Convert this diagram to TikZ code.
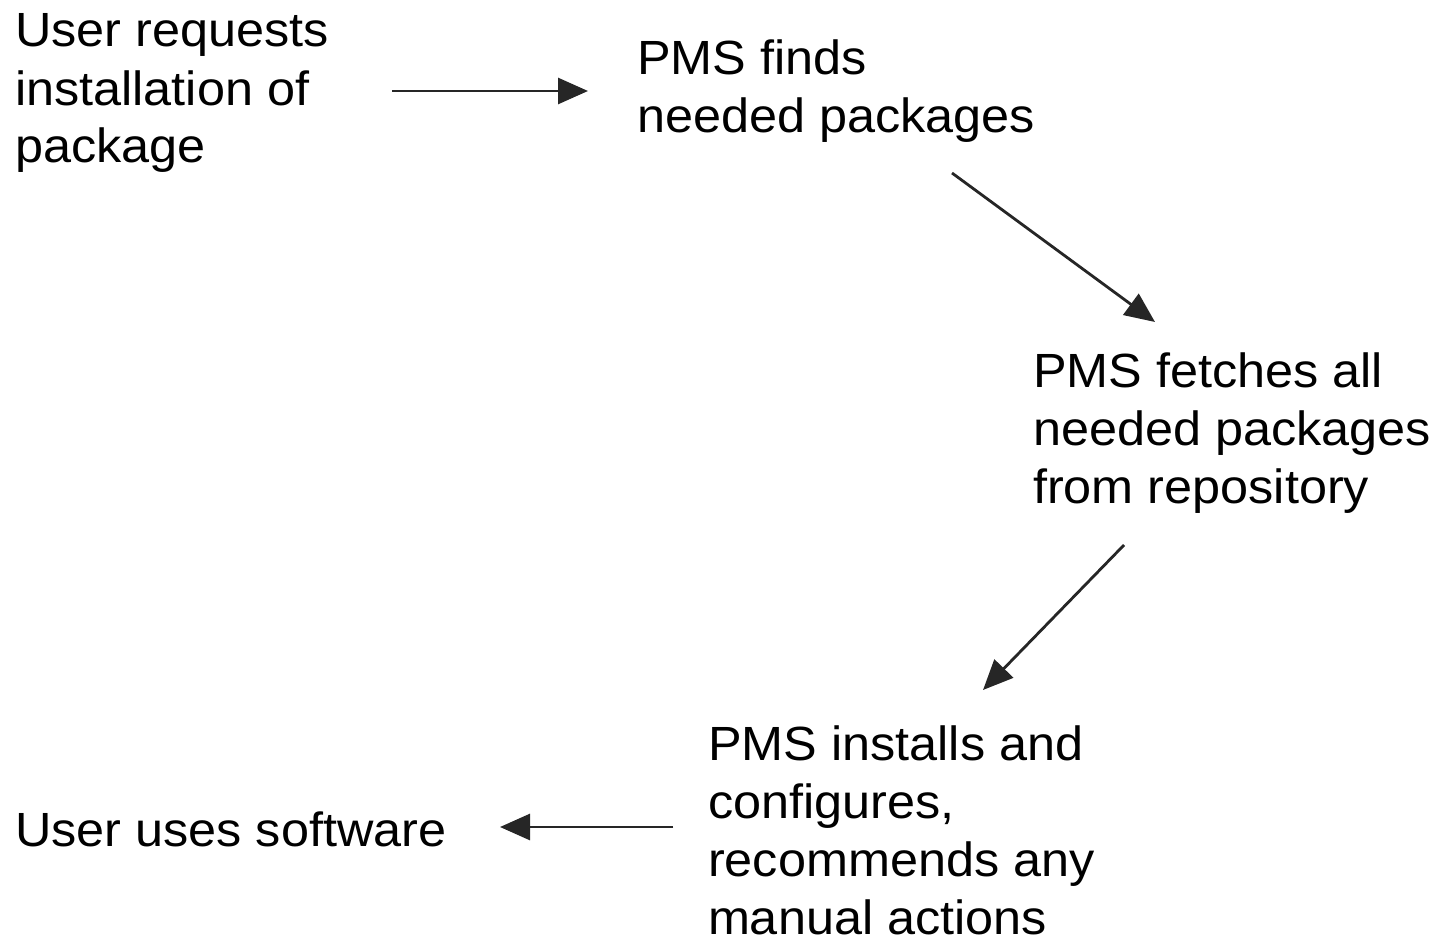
\documentclass[tikz,border=0pt]{standalone}
\usepackage{fontspec}
\setmainfont[FakeStretch=1.05]{Liberation Sans}
\usepackage{tikz}
\usetikzlibrary{arrows.meta,positioning}
\tikzset{
    >={Triangle[length=15pt,width=13pt]},
    font=\fontsize{24}{29}\selectfont,
    step text/.style={align=left,inner sep=0pt,outer sep=0pt,anchor=base west},
    flow/.style={->,line width=1.4pt,draw=black!85,fill=black}
}
\begin{document}
\begin{tikzpicture}[x=0.5pt,y=-0.5pt]
    \useasboundingbox (0,0) rectangle (1438,936);
    % base anchor sits on the last line
    \node[step text] (request) at (15,163) {User requests\\installation of\\package};
    \node[step text] (find) at (637,133) {PMS finds\\needed packages};
    \node[step text] (fetch) at (1033,503) {PMS fetches all\\needed packages\\from repository};
    \node[step text] (install) at (708,934) {PMS installs and\\configures,\\recommends any\\manual actions};
    \node[step text] (use) at (15,846) {User uses software};
    \coordinate (a1) at (392,91);  \coordinate (a2) at (588,91);
    \coordinate (b1) at (952,173); \coordinate (b2) at (1155,322);
    \coordinate (c1) at (1124,545); \coordinate (c2) at (983,690);
    \coordinate (d1) at (673,827); \coordinate (d2) at (500,827);
    \path
        (a1) edge [flow] (a2)
        (b1) edge [flow] (b2)
        (c1) edge [flow] (c2)
        (d1) edge [flow] (d2)
        ;
\end{tikzpicture}
\end{document}
